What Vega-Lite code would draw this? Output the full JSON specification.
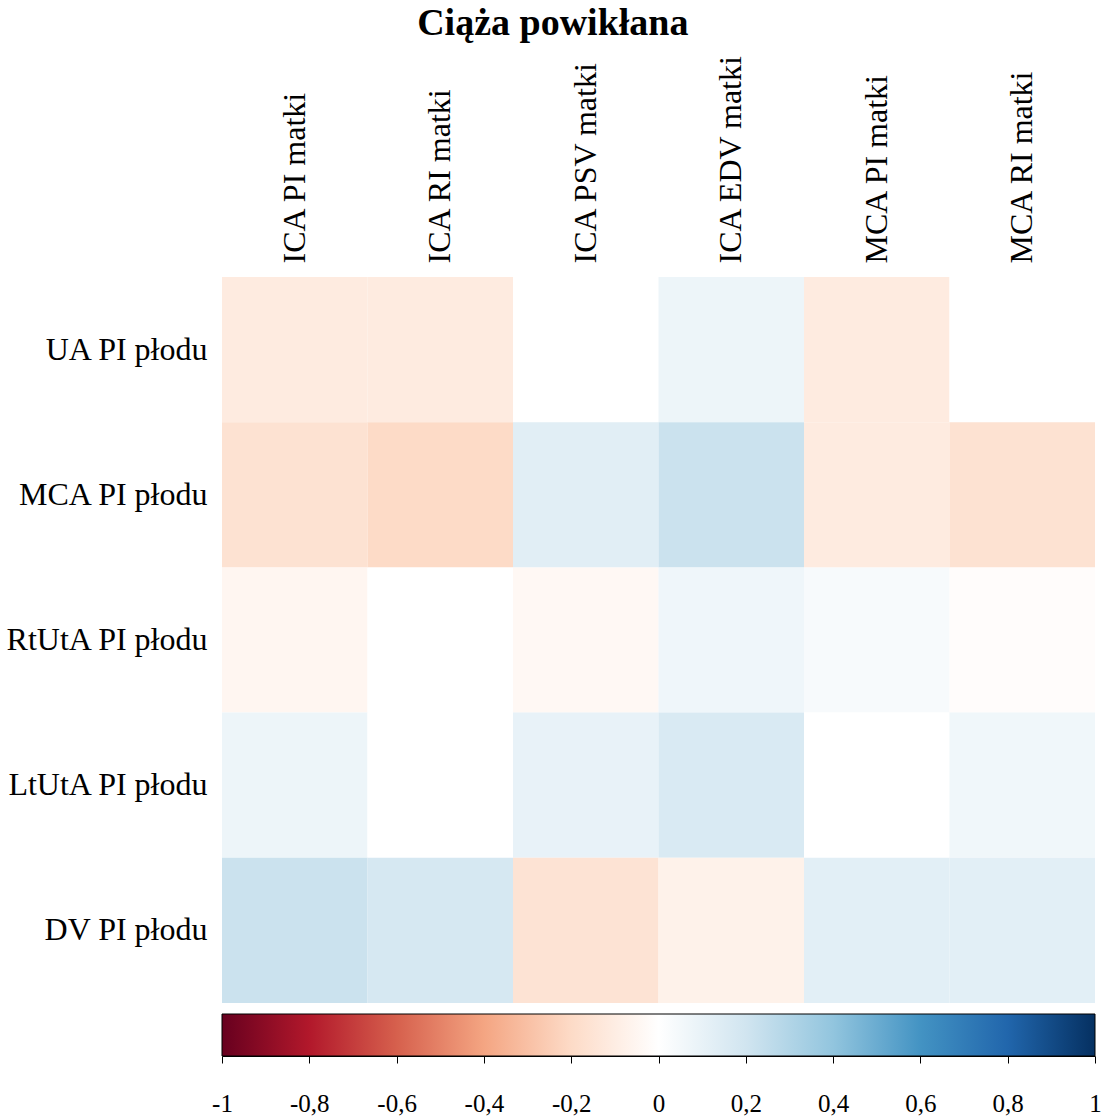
{
  "$schema": "https://vega.github.io/schema/vega-lite/v6.json",
  "background": "white",
  "padding": {"left": 4, "top": 5, "right": 2, "bottom": 5},
  "title": {"text": "Ciąża powikłana", "font": "Liberation Serif", "fontSize": 38, "fontWeight": "bold", "color": "black", "anchor": "middle", "frame": "bounds", "offset": 10},
  "config": {"view": {"stroke": null}, "axis": {"labelFont": "Liberation Serif", "labelColor": "black", "labelLimit": 0}},
  "spacing": 10,
  "vconcat": [
    {
      "width": 873,
      "height": 726,
      "data": {"values": [
        {"row": "UA PI płodu", "col": "ICA PI matki", "r": -0.11},
        {"row": "UA PI płodu", "col": "ICA RI matki", "r": -0.11},
        {"row": "UA PI płodu", "col": "ICA PSV matki", "r": 0.0},
        {"row": "UA PI płodu", "col": "ICA EDV matki", "r": 0.08},
        {"row": "UA PI płodu", "col": "MCA PI matki", "r": -0.11},
        {"row": "UA PI płodu", "col": "MCA RI matki", "r": 0.0},
        {"row": "MCA PI płodu", "col": "ICA PI matki", "r": -0.16},
        {"row": "MCA PI płodu", "col": "ICA RI matki", "r": -0.2},
        {"row": "MCA PI płodu", "col": "ICA PSV matki", "r": 0.13},
        {"row": "MCA PI płodu", "col": "ICA EDV matki", "r": 0.22},
        {"row": "MCA PI płodu", "col": "MCA PI matki", "r": -0.11},
        {"row": "MCA PI płodu", "col": "MCA RI matki", "r": -0.16},
        {"row": "RtUtA PI płodu", "col": "ICA PI matki", "r": -0.05},
        {"row": "RtUtA PI płodu", "col": "ICA RI matki", "r": 0.0},
        {"row": "RtUtA PI płodu", "col": "ICA PSV matki", "r": -0.04},
        {"row": "RtUtA PI płodu", "col": "ICA EDV matki", "r": 0.07},
        {"row": "RtUtA PI płodu", "col": "MCA PI matki", "r": 0.035},
        {"row": "RtUtA PI płodu", "col": "MCA RI matki", "r": -0.015},
        {"row": "LtUtA PI płodu", "col": "ICA PI matki", "r": 0.08},
        {"row": "LtUtA PI płodu", "col": "ICA RI matki", "r": 0.0},
        {"row": "LtUtA PI płodu", "col": "ICA PSV matki", "r": 0.1},
        {"row": "LtUtA PI płodu", "col": "ICA EDV matki", "r": 0.165},
        {"row": "LtUtA PI płodu", "col": "MCA PI matki", "r": 0.0},
        {"row": "LtUtA PI płodu", "col": "MCA RI matki", "r": 0.065},
        {"row": "DV PI płodu", "col": "ICA PI matki", "r": 0.22},
        {"row": "DV PI płodu", "col": "ICA RI matki", "r": 0.18},
        {"row": "DV PI płodu", "col": "ICA PSV matki", "r": -0.155},
        {"row": "DV PI płodu", "col": "ICA EDV matki", "r": -0.075},
        {"row": "DV PI płodu", "col": "MCA PI matki", "r": 0.125},
        {"row": "DV PI płodu", "col": "MCA RI matki", "r": 0.125}
      ]},
      "mark": {"type": "rect"},
      "encoding": {
        "x": {"field": "col", "type": "nominal", "sort": ["ICA PI matki", "ICA RI matki", "ICA PSV matki", "ICA EDV matki", "MCA PI matki", "MCA RI matki"],
              "scale": {"paddingInner": 0, "paddingOuter": 0},
              "axis": {"orient": "top", "title": null, "labelAngle": -90, "labelFontSize": 32, "labelPadding": 14, "ticks": false, "domain": false, "labelAlign": "left", "labelBaseline": "middle"}},
        "y": {"field": "row", "type": "nominal", "sort": ["UA PI płodu", "MCA PI płodu", "RtUtA PI płodu", "LtUtA PI płodu", "DV PI płodu"],
              "scale": {"paddingInner": 0, "paddingOuter": 0},
              "axis": {"title": null, "labelFontSize": 32, "labelPadding": 15, "ticks": false, "domain": false}},
        "color": {"field": "r", "type": "quantitative", "legend": null,
                  "scale": {"type": "linear", "domain": [-1, -0.8, -0.6, -0.4, -0.2, 0, 0.2, 0.4, 0.6, 0.8, 1],
                            "range": ["#67001F", "#B2182B", "#D6604D", "#F4A582", "#FDDBC7", "#FFFFFF", "#D1E5F0", "#92C5DE", "#4393C3", "#2166AC", "#053061"],
                            "interpolate": "rgb"}}
      }
    },
    {
      "width": 873,
      "height": 42,
      "data": {"values": [{"lo": -1, "hi": 1}]},
      "mark": {"type": "rect", "stroke": "black", "strokeWidth": 1,
               "fill": {"gradient": "linear", "x1": 0, "y1": 0, "x2": 1, "y2": 0,
                        "stops": [
                          {"offset": 0, "color": "#67001F"},
                          {"offset": 0.1, "color": "#B2182B"},
                          {"offset": 0.2, "color": "#D6604D"},
                          {"offset": 0.3, "color": "#F4A582"},
                          {"offset": 0.4, "color": "#FDDBC7"},
                          {"offset": 0.5, "color": "#FFFFFF"},
                          {"offset": 0.6, "color": "#D1E5F0"},
                          {"offset": 0.7, "color": "#92C5DE"},
                          {"offset": 0.8, "color": "#4393C3"},
                          {"offset": 0.9, "color": "#2166AC"},
                          {"offset": 1, "color": "#053061"}
                        ]}},
      "encoding": {
        "x": {"field": "lo", "type": "quantitative", "scale": {"domain": [-1, 1], "nice": false, "zero": false},
              "axis": {"title": null, "values": [-1, -0.8, -0.6, -0.4, -0.2, 0, 0.2, 0.4, 0.6, 0.8, 1],
                       "labelExpr": "replace(toString(datum.value), '.', ',')",
                       "labelFontSize": 25, "labelPadding": 28, "tickSize": 7, "tickColor": "black", "domainColor": "black", "grid": false, "labelFlush": false}},
        "x2": {"field": "hi"}
      }
    }
  ]
}
